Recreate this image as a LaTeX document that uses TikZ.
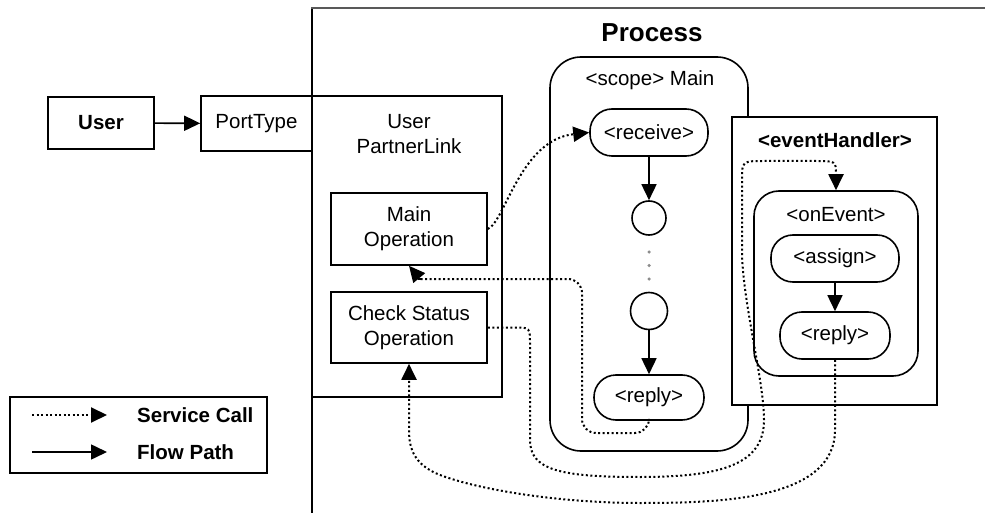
\documentclass[tikz,border=0pt]{standalone}
\usepackage{fontspec}
\setmainfont{Liberation Sans}
\usetikzlibrary{arrows.meta}
\begin{document}
\begin{tikzpicture}[x=1pt,y=-1pt,
  txt/.style={font=\fontsize{20.5}{25}\selectfont, align=center, inner sep=0pt},
  btxt/.style={font=\fontsize{20.5}{25}\selectfont\bfseries, align=center, inner sep=0pt},
  box/.style={draw, line width=1.6pt, fill=white, inner sep=0pt, align=center, font=\fontsize{20.5}{25}\selectfont},
  pill/.style={box, rounded corners=22pt},
  circ/.style={draw, line width=1.6pt, circle, inner sep=0pt, fill=white},
  tip/.style={-{Triangle[length=16pt 0 0,width=15pt 0 0]}},
  flow/.style={line width=1.6pt, tip},
  call/.style={line width=2pt, dash pattern=on 2pt off 2.5pt, tip},
  dotm/.style={circle, fill=black!45, inner sep=0pt, minimum size=3.5pt}
]
\useasboundingbox (0,0) rectangle (985,513);

% Process frame
\draw[line width=1.8pt] (312,513) -- (312,8);
\draw[line width=2.8pt, black!65] (311.1,8) -- (985,8);
\node[btxt, font=\fontsize{26}{30}\selectfont\bfseries] (ptitle) at (652,33) {Process};

% Partner link side
\node[box, minimum width=190pt, minimum height=301pt] (pl) at (407,246.5) {};
\node[txt] (pllab) at (409,134) {User\\PartnerLink};
\node[box, minimum width=111pt, minimum height=55pt] (pt) at (256.5,123.5) {PortType};
\node[box, font=\fontsize{20.5}{25}\selectfont\bfseries, minimum width=106pt, minimum height=52pt] (user) at (101,123) {User};
\node[box, minimum width=156pt, minimum height=72pt] (mop) at (409,229) {Main\\Operation};
\node[box, minimum width=156pt, minimum height=71pt] (cs) at (409,327.5) {Check Status\\Operation};

% Scope Main
\node[box, rounded corners=31pt, minimum width=198pt, minimum height=394pt] (scope) at (649,254) {};
\node[txt] (scopelab) at (650,80) {<scope> Main};
\node[pill, minimum width=118pt, minimum height=47pt] (recv) at (649,132.5) {<receive>};
\node[circ, minimum size=34pt] (c1) at (649,218) {};
\node[dotm] (d1) at (649,252) {};
\node[dotm] (d2) at (649,265.5) {};
\node[dotm] (d3) at (649,279) {};
\node[circ, minimum size=37pt] (c2) at (649,311) {};
\node[pill, minimum width=110pt, minimum height=45pt] (mreply) at (649,397.5) {<reply>};

% Event handler
\node[box, minimum width=205pt, minimum height=288pt] (eh) at (834.5,261) {};
\node[btxt] (ehlab) at (835,140) {<eventHandler>};
\node[box, rounded corners=25pt, minimum width=164pt, minimum height=185pt] (eon) at (836,283.5) {};
\node[txt] (eonlab) at (836,215) {<onEvent>};
\node[pill, minimum width=128pt, minimum height=47pt] (assign) at (835,258.5) {<assign>};
\node[pill, minimum width=110pt, minimum height=47pt] (ereply) at (835,335.5) {<reply>};

% Flow paths
\draw[flow] (user) -- (pt);
\draw[flow] (recv) -- (c1);
\draw[flow] (c2) -- (mreply);
\draw[flow] (assign) -- (ereply);

% Service calls
\draw[call] (mop.east) .. controls (505,222) and (520,140) .. (recv.west);
\draw[call, rounded corners=14pt] (mreply.south) -- (649,433) -- (582,433) -- (582,279) -- (432,279) .. controls (420,279) .. (mop.south);
\draw[call] (cs.east) -- (515,327.5) .. controls (530,327.5) .. (530,345) -- (530,440)
  .. controls (530,470) and (560,477) .. (640,477)
  .. controls (720,477) and (764,465) .. (764,420)
  .. controls (764,380) and (742,300) .. (742,250) -- (742,180)
  .. controls (742,161) .. (765,161) -- (815,161)
  .. controls (836,161) .. (836,175) -- (eon.north);
\draw[call] (ereply.south) -- (835,430)
  .. controls (835,500) and (720,503) .. (640,503)
  .. controls (560,503) and (480,490) .. (440,475)
  .. controls (415,465) and (409,450) .. (409,430) -- (cs.south);

% Legend
\node[box, minimum width=257pt, minimum height=76pt] (leg) at (138.5,435) {};
\coordinate (l1a) at (32,415);
\coordinate (l1b) at (107,415);
\coordinate (l2a) at (32,452);
\coordinate (l2b) at (107,452);
\draw[call] (l1a) -- (l1b);
\draw[flow] (l2a) -- (l2b);
\node[btxt, anchor=west] (lt1) at (137,415) {Service Call};
\node[btxt, anchor=west] (lt2) at (137,452) {Flow Path};
\end{tikzpicture}
\end{document}
